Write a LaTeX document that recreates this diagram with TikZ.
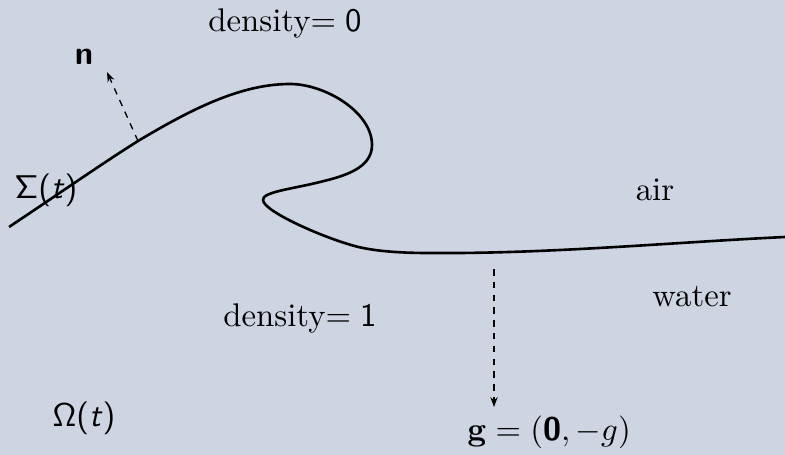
\documentclass[tikz,border=0pt]{standalone}
\usetikzlibrary{arrows.meta}
\definecolor{bgc}{RGB}{205,213,226}
\begin{document}
\begin{tikzpicture}[x=0.305pt,y=-0.305pt,
  surf/.style={line width=0.8pt, line join=round},
  vec/.style={line width=0.4pt, dash pattern=on 2pt off 1.9pt, -{Stealth[length=3pt,width=2.2pt]}},
  lbl/.style={inner sep=0pt, anchor=center}]
\fill[bgc] (0,0) rectangle (785,455);
\useasboundingbox (0,0) rectangle (785,455);
\draw[surf] (9,227) .. controls (60,193) and (100,165) .. (138,141)
  .. controls (190,110) and (240,84) .. (290,84)
  .. controls (325,84) and (372,112) .. (372,145)
  .. controls (372,168) and (345,176) .. (320,182)
  .. controls (292,189) and (262,192) .. (263,200)
  .. controls (263,212) and (333,242) .. (363,248)
  .. controls (393,254) and (430,253) .. (460,253)
  .. controls (570,252) and (680,242) .. (785,237);
\coordinate (nbase) at (138,141);
\coordinate (ntip) at (107,72);
\coordinate (gbase) at (494,269);
\coordinate (gtip) at (494,407);
\draw[vec] (nbase) -- (ntip);
\draw[vec] (gbase) -- (gtip);
\node[lbl] (n) at (84,57) {\textsf{\bfseries n}};
\node[lbl] (sigma) at (46,190) {\textsf{$\mathsf{\Sigma}$(\textit{t})}};
\node[lbl] (omega) at (84,418) {\textsf{$\mathsf{\Omega}$(\textit{t})}};
\node[lbl] (d0) at (285,23) {density$=\mathsf{0}$};
\node[lbl] (d1) at (300,318) {density$=\mathsf{1}$};
\node[lbl] (air) at (655,190) {air};
\node[lbl] (water) at (692,297) {water};
\node[lbl] (g) at (549,432) {$\mathbf{g}=(\textsf{\bfseries 0},-g)$};
\end{tikzpicture}
\end{document}
